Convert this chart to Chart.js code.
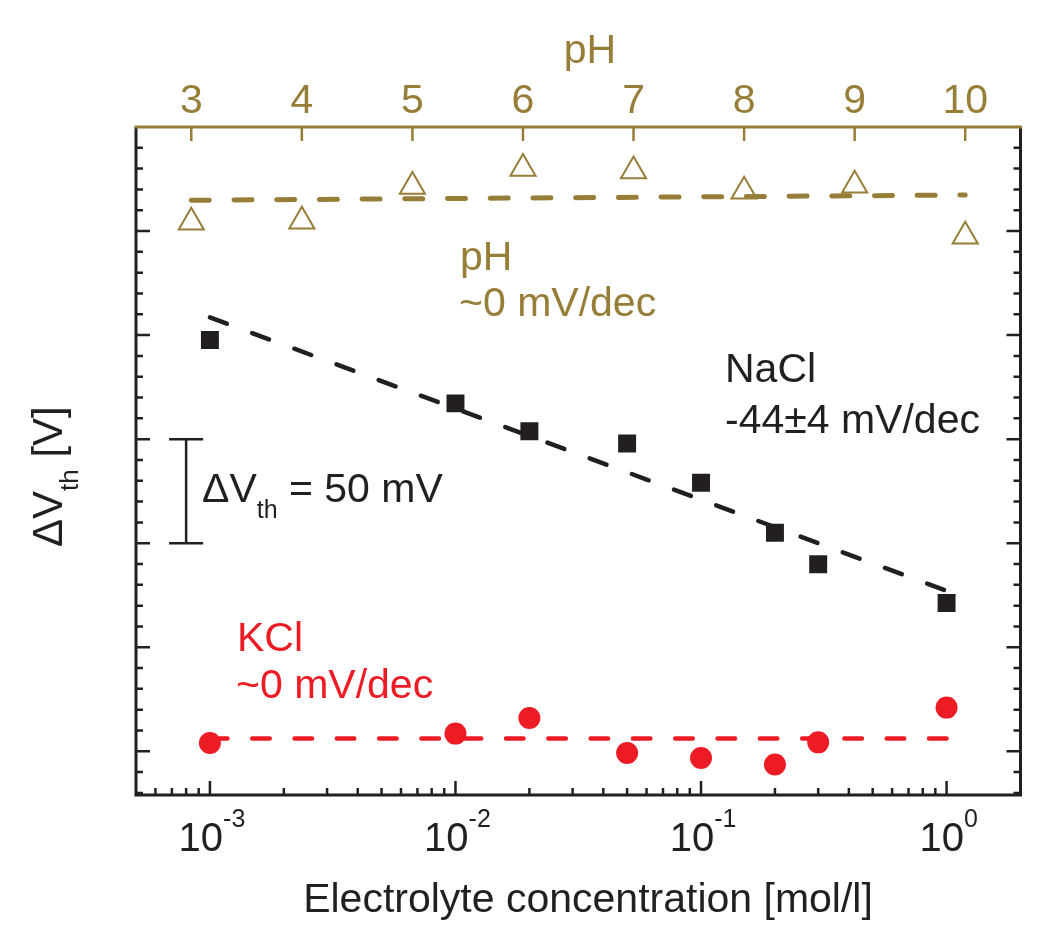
<!DOCTYPE html>
<html>
<head>
<meta charset="utf-8">
<script src="https://cdn.jsdelivr.net/npm/chart.js@4/dist/chart.umd.min.js"></script>
<style>
  html, body { margin: 0; padding: 0; background: #ffffff; overflow: hidden; }
  canvas { display: block; }
</style>
</head>
<body>
<canvas id="c" width="1037" height="927"></canvas>
<script>
// ---------- data ----------
const concentrations = [0.001, 0.01, 0.02, 0.05, 0.1, 0.2, 0.3, 1];          // mol/l
const naclValues = [197.6, 167.2, 153.8, 147.9, 129.0, 105.0, 89.9, 71.3];    // mV
const kclValues  = [4.0, 8.5, 16.0, -0.8, -3.2, -6.3, 4.3, 21.0];             // mV
const phLevels   = [3, 4, 5, 6, 7, 8, 9, 10];
const phValues   = [254.2, 254.7, 271.4, 280.0, 278.8, 269.1, 272.0, 247.5];   // mV

const naclFitX = [0.001, 1];
const naclFitY = [208.5, 77.1];
const kclFitX  = [0.001, 1];
const kclFitY  = [6.1, 6.1];
const phFitX   = [3, 10];
const phFitY   = [264.8, 267.3];

const bottomTickValues = [0.001, 0.01, 0.1, 1];
const bottomTickExps   = ['-3', '-2', '-1', '0'];
const topTickValues    = [3, 4, 5, 6, 7, 8, 9, 10];

const BLACK = '#231f20';
const RED = '#ed1c24';
const OLIVE = '#977e38';
const FONT = "'Liberation Sans', Arial, Helvetica, sans-serif";

const pts = (xs, ys) => xs.map((x, i) => ({x: x, y: ys[i]}));

// ---------- frame / ticks / text plugin ----------
const framePlugin = {
  id: 'frame',
  afterDraw(chart) {
    const ctx = chart.ctx;
    const a = chart.chartArea;
    const xs = chart.scales.x, x2 = chart.scales.x2, ys = chart.scales.y;
    ctx.save();
    ctx.lineCap = 'butt';

    // y ticks (left and right, inward)
    ctx.strokeStyle = BLACK;
    ctx.lineWidth = 2.5;
    for (let v = -20; v <= 300; v += 10) {
      const y = ys.getPixelForValue(v);
      if (y <= a.top + 1 || y >= a.bottom - 1) continue;
      const len = (v % 50 === 0) ? 14 : 7;
      ctx.beginPath();
      ctx.moveTo(a.left, y); ctx.lineTo(a.left + len, y);
      ctx.moveTo(a.right, y); ctx.lineTo(a.right - len, y);
      ctx.stroke();
    }
    // bottom log ticks
    for (let d = -4; d <= 0; d++) {
      for (let m = 1; m <= 9; m++) {
        const v = m * Math.pow(10, d);
        if (v < xs.min * 0.999 || v > xs.max * 1.001) continue;
        const x = xs.getPixelForValue(v);
        if (x <= a.left + 1 || x >= a.right - 1) continue;
        const len = (m === 1) ? 14 : 7;
        ctx.beginPath();
        ctx.moveTo(x, a.bottom); ctx.lineTo(x, a.bottom - len);
        ctx.stroke();
      }
    }
    // frame lines
    ctx.lineWidth = 3;
    ctx.beginPath();
    ctx.moveTo(a.left, a.top); ctx.lineTo(a.left, a.bottom);
    ctx.lineTo(a.right, a.bottom); ctx.lineTo(a.right, a.top);
    ctx.stroke();
    // top axis (pH)
    ctx.strokeStyle = OLIVE;
    ctx.beginPath();
    ctx.moveTo(a.left - 1.5, a.top); ctx.lineTo(a.right + 1.5, a.top);
    ctx.stroke();
    ctx.lineWidth = 2.5;
    for (const v of topTickValues) {
      const x = x2.getPixelForValue(v);
      ctx.beginPath();
      ctx.moveTo(x, a.top); ctx.lineTo(x, a.top + 14);
      ctx.stroke();
    }

    // top tick labels
    ctx.fillStyle = OLIVE;
    ctx.font = '41px ' + FONT;
    ctx.textAlign = 'center';
    ctx.textBaseline = 'alphabetic';
    topTickValues.forEach(v => {
      ctx.fillText(String(v), x2.getPixelForValue(v), 113);
    });
    ctx.fillText('pH', 590, 63);

    // bottom tick labels 10^n
    ctx.fillStyle = BLACK;
    bottomTickValues.forEach((v, i) => {
      const x = xs.getPixelForValue(v);
      ctx.font = '40px ' + FONT;
      const w1 = ctx.measureText('10').width;
      ctx.font = '25px ' + FONT;
      const w2 = ctx.measureText(bottomTickExps[i]).width;
      const start = x - (w1 + w2) / 2 + 2;
      ctx.textAlign = 'left';
      ctx.font = '40px ' + FONT;
      ctx.fillText('10', start, 851);
      ctx.font = '25px ' + FONT;
      ctx.fillText(bottomTickExps[i], start + w1, 827);
    });

    // x title
    ctx.font = '41px ' + FONT;
    ctx.textAlign = 'center';
    ctx.fillText('Electrolyte concentration [mol/l]', 588, 912);

    // y title (rotated)
    ctx.save();
    ctx.translate(62, 547);
    ctx.rotate(-Math.PI / 2);
    ctx.textAlign = 'left';
    ctx.font = '42px ' + FONT;
    let px = 0;
    ctx.fillText('\u0394V', px, 0); px += ctx.measureText('\u0394V').width;
    ctx.font = '26px ' + FONT;
    ctx.fillText('th', px, 16); px += ctx.measureText('th').width;
    ctx.font = '42px ' + FONT;
    ctx.fillText(' [V]', px, 0);
    ctx.restore();

    // annotations
    ctx.textAlign = 'left';
    ctx.font = '41px ' + FONT;
    ctx.fillStyle = OLIVE;
    ctx.fillText('pH', 460, 270);
    ctx.fillText('~0 mV/dec', 459, 316);

    ctx.fillStyle = BLACK;
    ctx.fillText('NaCl', 725, 382);
    ctx.fillText('-44\u00b14 mV/dec', 725, 433);

    ctx.fillStyle = RED;
    ctx.fillText('KCl', 237, 651);
    ctx.fillText('~0 mV/dec', 236, 698);

    // scale bar  ΔVth = 50 mV
    ctx.strokeStyle = BLACK;
    ctx.lineWidth = 2.5;
    const bx = xs.getPixelForValue(0.0008);
    const by1 = ys.getPixelForValue(150), by2 = ys.getPixelForValue(100);
    ctx.beginPath();
    ctx.moveTo(bx, by1); ctx.lineTo(bx, by2);
    ctx.moveTo(bx - 17, by1); ctx.lineTo(bx + 17, by1);
    ctx.moveTo(bx - 17, by2); ctx.lineTo(bx + 17, by2);
    ctx.stroke();
    ctx.fillStyle = BLACK;
    ctx.font = '41px ' + FONT;
    let sx = 202;
    ctx.fillText('\u0394V', sx, 502); sx += ctx.measureText('\u0394V').width;
    ctx.font = '25px ' + FONT;
    ctx.fillText('th', sx, 518); sx += ctx.measureText('th').width;
    ctx.font = '41px ' + FONT;
    ctx.fillText(' = 50 mV', sx, 502);

    ctx.restore();
  }
};

// ---------- chart ----------
const fixSize = (w, h) => function (scale) {
  if (w !== null) scale.width = w;
  if (h !== null) scale.height = h;
};

new Chart(document.getElementById('c'), {
  type: 'scatter',
  data: {
    datasets: [
      {
        label: 'NaCl',
        data: pts(concentrations, naclValues),
        xAxisID: 'x', yAxisID: 'y',
        pointStyle: 'rect', pointRadius: 12.7,
        backgroundColor: BLACK, borderColor: BLACK, borderWidth: 0,
        showLine: false
      },
      {
        label: 'KCl',
        data: pts(concentrations, kclValues),
        xAxisID: 'x', yAxisID: 'y',
        pointStyle: 'circle', pointRadius: 11,
        backgroundColor: RED, borderColor: RED, borderWidth: 0,
        showLine: false
      },
      {
        label: 'pH',
        data: pts(phLevels, phValues),
        xAxisID: 'x2', yAxisID: 'y',
        pointStyle: 'triangle', pointRadius: 14.5,
        backgroundColor: 'rgba(0,0,0,0)', borderColor: OLIVE, borderWidth: 2,
        showLine: false
      },
      {
        label: 'NaCl fit',
        data: pts(naclFitX, naclFitY),
        xAxisID: 'x', yAxisID: 'y',
        showLine: true, pointRadius: 0,
        borderColor: BLACK, borderWidth: 4.5,
        borderDash: [18, 27], borderCapStyle: 'round'
      },
      {
        label: 'KCl fit',
        data: pts(kclFitX, kclFitY),
        xAxisID: 'x', yAxisID: 'y',
        showLine: true, pointRadius: 0,
        borderColor: RED, borderWidth: 4.5,
        borderDash: [17.5, 24.8], borderCapStyle: 'round'
      },
      {
        label: 'pH fit',
        data: pts(phFitX, phFitY),
        xAxisID: 'x2', yAxisID: 'y',
        showLine: true, pointRadius: 0,
        borderColor: OLIVE, borderWidth: 5,
        borderDash: [18, 24.7], borderCapStyle: 'round'
      }
    ]
  },
  options: {
    responsive: false,
    animation: false,
    layout: { padding: { left: 0, right: -1, top: 0, bottom: 0 } },
    plugins: { legend: { display: false }, tooltip: { enabled: false } },
    scales: {
      x: {
        type: 'logarithmic', position: 'bottom', min: 0.0005, max: 2,
        ticks: { display: false }, grid: { display: false, drawTicks: false }, border: { display: false },
        afterFit: fixSize(null, 132)
      },
      x2: {
        type: 'linear', position: 'top', min: 2.5, max: 10.5,
        ticks: { display: false }, grid: { display: false, drawTicks: false }, border: { display: false },
        afterFit: fixSize(null, 127)
      },
      y: {
        type: 'linear', position: 'left', min: -21, max: 300,
        ticks: { display: false }, grid: { display: false, drawTicks: false }, border: { display: false },
        afterFit: fixSize(136, null)
      }
    }
  },
  plugins: [framePlugin]
});
</script>
</body>
</html>
